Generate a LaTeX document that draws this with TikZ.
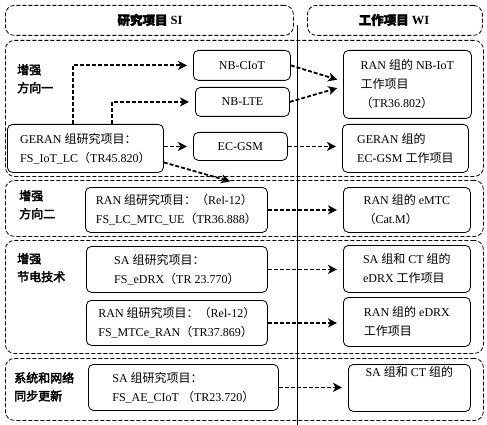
\documentclass[tikz,border=0pt]{standalone}
\usepackage{fontspec}
\setmainfont{Liberation Serif}
\newfontfamily\cjk{Noto Sans CJK SC}
\newfontfamily\cjkb[FakeBold=3]{Noto Sans CJK SC}
\newcommand\zh[1]{{\cjk #1}}
\usetikzlibrary{arrows.meta,calc}
\tikzset{
  grp/.style={draw, dash pattern=on 4pt off 2pt, rounded corners=9pt, line width=0.8pt, anchor=north west, inner sep=0pt},
  box/.style={draw, rounded corners=5pt, line width=0.8pt, anchor=north west, align=left, inner sep=2pt,
    font=\fontsize{12}{19}\selectfont},
  lbl/.style={align=left, anchor=north west, inner sep=0pt, font=\fontsize{12}{18}\selectfont\cjkb},
  hdr/.style={font=\fontsize{12.5}{14}\selectfont\bfseries},
  arr/.style={-{Stealth[length=9pt,width=9pt,inset=2.5pt]}, dash pattern=on 4pt off 2pt, line width=1.8pt, shorten >=6pt},
}
\begin{document}
\begin{tikzpicture}[x=1pt,y=-1pt]
\useasboundingbox (0,0) rectangle (487,425);
% headers
\node[grp, minimum width=288, minimum height=30] (h1) at (5,5) {};
\node[hdr] (h1t) at (150,20) {{\cjkb 研究项目} SI};
\node[grp, minimum width=175, minimum height=30] (h2) at (307,5) {};
\node[hdr] (h2t) at (394,20) {{\cjkb 工作项目} WI};
% groups
\node[grp, minimum width=478, minimum height=136] (g1) at (5,40) {};
\node[grp, minimum width=478, minimum height=56] (g2) at (5,180) {};
\node[grp, minimum width=478, minimum height=113] (g3) at (5,240) {};
\node[grp, minimum width=478, minimum height=62] (g4) at (5,358) {};
% group labels
\node[lbl] (l1) at (17,64) {增强\\方向一};
\node[lbl] (l2) at (19,190) {增强\\方向二};
\node[lbl] (l3) at (17,253) {增强\\节电技术};
\node[lbl] (l4) at (14,372) {系统和网络\\同步更新};
% group 1
\node[box, minimum width=97, minimum height=30] (cliot) at (193,50) {NB-CIoT};
\node[box, minimum width=94, minimum height=29] (nblte) at (195,87) {NB-LTE};
\node[box, minimum width=156, minimum height=48] (geran) at (7,124) {GERAN \zh{组研究项目：}\\FS\_IoT\_LC\zh{（}TR45.820\zh{）}};
\node[box, minimum width=94, minimum height=28] (ecgsm) at (193,132) {EC-GSM};
\node[box, minimum width=128, minimum height=68] (wi1) at (343,50) {RAN \zh{组的} NB-IoT\\\zh{工作项目}\\\zh{（}TR36.802\zh{）}};
\node[box, minimum width=126, minimum height=48] (wi2) at (342,124) {GERAN \zh{组的}\\EC-GSM \zh{工作项目}};
% group 2
\node[box, minimum width=182, minimum height=45] (ran1) at (85,187) {RAN \zh{组研究项目：（}Rel-12\zh{）}\\FS\_LC\_MTC\_UE\zh{（}TR36.888\zh{）}};
\node[box, minimum width=127, minimum height=45] (wi3) at (343,187) {RAN \zh{组的} eMTC\\\zh{（}Cat.M\zh{）}};
% group 3
\node[box, minimum width=181, minimum height=46] (sa1) at (86,246) {SA \zh{组研究项目：}\\FS\_eDRX\zh{（}TR 23.770\zh{）}};
\node[box, minimum width=181, minimum height=45] (ran2) at (86,300) {RAN \zh{组研究项目：（}Rel-12\zh{）}\\FS\_MTCe\_RAN\zh{（}TR37.869\zh{）}};
\node[box, minimum width=127, minimum height=47] (wi4) at (343,245) {SA \zh{组和} CT \zh{组的}\\eDRX \zh{工作项目}};
\node[box, minimum width=127, minimum height=49] (wi5) at (343,297) {RAN \zh{组的} eDRX\\\zh{工作项目}};
% group 4
\node[box, minimum width=190, minimum height=46] (sa2) at (88,364) {SA \zh{组研究项目：}\\FS\_AE\_CIoT \zh{（}TR23.720\zh{）}};
\node[box, minimum width=122, minimum height=46, align=center] (wi6) at (348,364) {SA \zh{组和} CT \zh{组的}\\[14pt]};
% divider
\coordinate (vtop) at (297,25);
\coordinate (vbot) at (297,425);
\draw[line width=0.7pt] (vtop) -- (vbot);
% arrows
\draw[arr] ($(geran.north west)+(66,0)$) |- (cliot.west);
\draw[arr] ($(geran.north west)+(105,0)$) |- (nblte.west);
\draw[arr] (ecgsm.west -| geran.east) -- (ecgsm.west);
\coordinate (d4) at (236,183);
\draw[arr] ($(geran.east)+(0,14)$) -- (d4);
\draw[arr] (cliot.east) -- ($(wi1.west)+(0,-3)$);
\draw[arr] (nblte.east) -- ($(wi1.west)+(0,2)$);
\draw[arr] (ecgsm.east) -- (ecgsm.east -| wi2.west);
\draw[arr] (ran1.east) -- (ran1.east -| wi3.west);
\draw[arr] (sa1.east) -- (sa1.east -| wi4.west);
\draw[arr] (ran2.east) -- (ran2.east -| wi5.west);
\draw[arr] (sa2.east) -- (sa2.east -| wi6.west);
\end{tikzpicture}
\end{document}
